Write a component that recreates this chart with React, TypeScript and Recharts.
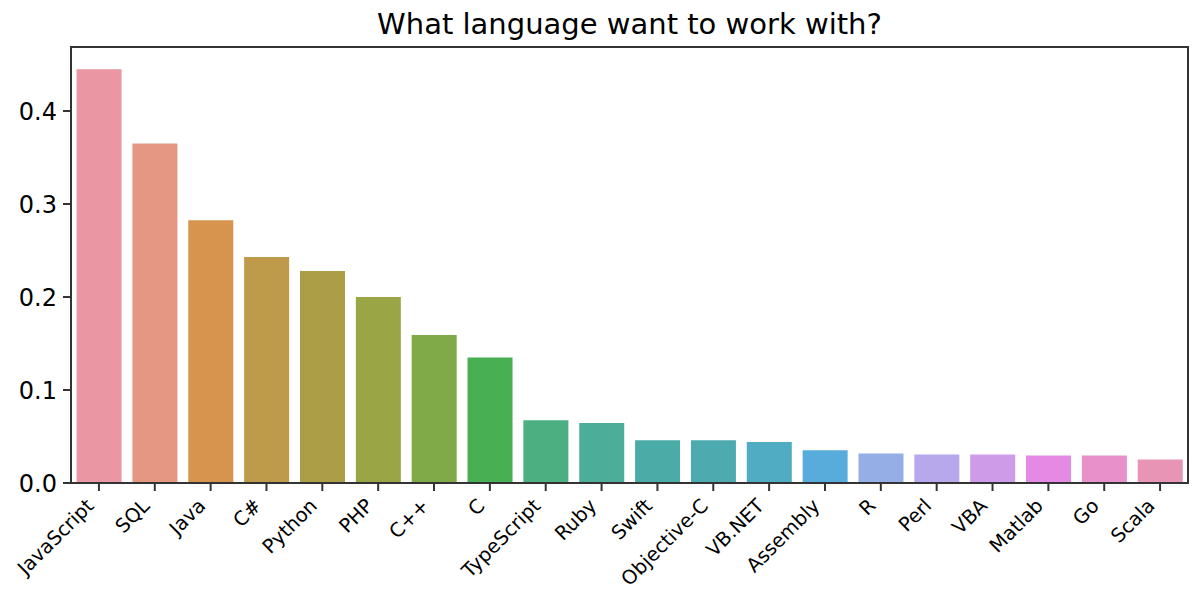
import { BarChart, Bar, XAxis, YAxis, Cell } from 'recharts';

const languages = [
  'JavaScript', 'SQL', 'Java', 'C#', 'Python', 'PHP', 'C++', 'C', 'TypeScript', 'Ruby',
  'Swift', 'Objective-C', 'VB.NET', 'Assembly', 'R', 'Perl', 'VBA', 'Matlab', 'Go', 'Scala',
];

const shares = [
  0.445, 0.365, 0.2825, 0.243, 0.228, 0.2, 0.159, 0.135, 0.0675, 0.0645,
  0.046, 0.046, 0.044, 0.0352, 0.0318, 0.0307, 0.0307, 0.0297, 0.0297, 0.0254,
];

const colors = [
  '#ea96a3', '#e69784', '#d6944f', '#be9a4b', '#ac9e47', '#9aa546', '#80aa47', '#48af53', '#4baf82', '#4cae99',
  '#4baba6', '#4dabb0', '#4facc3', '#57acdc', '#95afe6', '#b7a8ec', '#ce9be8', '#e489e4', '#e890c9', '#e894b5',
];

const yTicks = [0, 0.1, 0.2, 0.3, 0.4];

const data = languages.map((name, i) => ({ name, share: shares[i] }));

const FONT = '"DejaVu Sans", sans-serif';
const AXIS = '#333';

const XTick = (props: any) => {
  const { x, y, payload } = props;
  return (
    <g transform={`translate(${x - 4},${y + 16})`}>
      <text transform="rotate(-45)" textAnchor="end" fontSize={19.5} fontFamily={FONT} fill="#000">
        {payload.value}
      </text>
    </g>
  );
};

const App = () => {
  return (
    <div style={{ position: 'absolute', left: 0, top: 0, width: 1201, height: 607, background: '#fff' }}>
      <div
        style={{
          position: 'absolute',
          left: 71,
          width: 1117,
          top: 10,
          textAlign: 'center',
          fontFamily: FONT,
          fontSize: 29,
          lineHeight: '29px',
          color: '#000',
        }}
      >
        What language want to work with?
      </div>
      <BarChart
        width={1201}
        height={607}
        data={data}
        margin={{ top: 47, right: 13, bottom: 0, left: 0 }}
        barCategoryGap="10%"
      >
        <XAxis
          dataKey="name"
          interval={0}
          height={124}
          tickSize={8}
          tickMargin={0}
          tick={<XTick />}
          axisLine={{ stroke: AXIS, strokeWidth: 2 }}
          tickLine={{ stroke: AXIS, strokeWidth: 2 }}
        />
        <YAxis
          width={71}
          domain={[0, 0.4688]}
          ticks={yTicks}
          tickFormatter={(v: number) => v.toFixed(1)}
          tickSize={8}
          tickMargin={6}
          tick={{ fontSize: 24, fontFamily: FONT, fill: '#000' }}
          axisLine={{ stroke: AXIS, strokeWidth: 2 }}
          tickLine={{ stroke: AXIS, strokeWidth: 2 }}
        />
        <Bar dataKey="share" isAnimationActive={false}>
          {data.map((d, i) => (
            <Cell key={d.name} fill={colors[i]} />
          ))}
        </Bar>
      </BarChart>
      {/* top and right spines */}
      <div
        style={{
          position: 'absolute',
          left: 70,
          top: 46,
          width: 1119,
          height: 438,
          boxSizing: 'border-box',
          borderTop: `2px solid ${AXIS}`,
          borderRight: `2px solid ${AXIS}`,
          pointerEvents: 'none',
        }}
      />
    </div>
  );
};

export default App;
